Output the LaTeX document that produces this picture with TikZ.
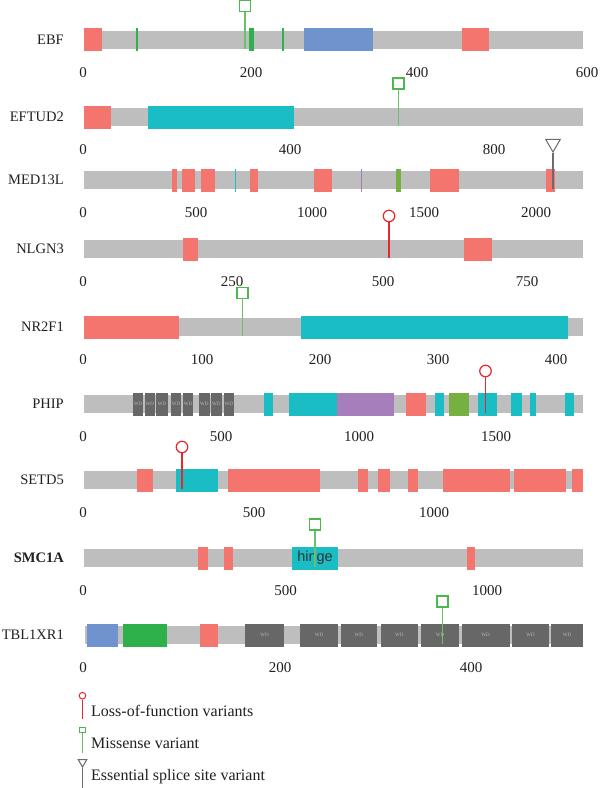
\documentclass[tikz,border=0pt]{standalone}
\usepackage{fontspec}
\setmainfont{Liberation Serif}
\setsansfont{Liberation Sans}
\usetikzlibrary{shapes.geometric}

\definecolor{bargray}{HTML}{BEBEBE}
\definecolor{domred}{HTML}{F4756E}
\definecolor{domcyan}{HTML}{1ABDC3}
\definecolor{domblue}{HTML}{6F94CD}
\definecolor{dompurple}{HTML}{A67EBB}
\definecolor{domolive}{HTML}{76B041}
\definecolor{domgreen}{HTML}{2EB14B}
\definecolor{wdgray}{HTML}{676767}
\definecolor{misgreen}{HTML}{4DB84B}
\definecolor{misline}{HTML}{6CC06A}
\definecolor{lofred}{HTML}{E8262D}
\definecolor{splgray}{HTML}{6B6B6B}
\definecolor{labelink}{HTML}{231F20}

\tikzset{
  genename/.style={anchor=east, inner sep=0pt, text=labelink, font=\fontsize{14.5}{18}\selectfont},
  axislabel/.style={text=labelink, font=\fontsize{15}{18}\selectfont},
  legendtext/.style={anchor=west, inner sep=0pt, text=labelink, font=\fontsize{16}{18}\selectfont},
  missense/.style={rectangle, draw=misgreen, line width=1.2pt, fill=white, minimum size=11pt, inner sep=0pt},
  misstem/.style={draw=misline, line width=1.1pt},
  lof/.style={circle, draw=lofred, line width=1.2pt, fill=white, minimum size=11.5pt, inner sep=0pt},
  lofstem/.style={draw=lofred, line width=1.1pt},
  splice/.style={regular polygon, regular polygon sides=3, shape border rotate=180, draw=splgray, line width=1pt, fill=white, minimum size=17pt, inner sep=0pt},
  splstem/.style={draw=splgray, line width=1.1pt},
  wdtext/.style={text=white!72!black, font=\fontsize{5}{6}\selectfont, inner sep=0pt},
}

% grey protein backbone and coloured domains (x from, y centre)
\newcommand{\backbone}[2]{\fill[bargray] (#1,#2-9) rectangle (583,#2+9);}
\newcommand{\domain}[4]{\fill[#1] (#2,#4-11.5) rectangle (#3,#4+11.5);}

\begin{document}
\begin{tikzpicture}[x=1pt, y=-1pt]
  \useasboundingbox (0,0) rectangle (600,788);

  % EBF
  \node[genename] (ebf) at (64,39.5) {EBF};
  \backbone{84}{39.5}
  \domain{domred}{84}{101.5}{39.5}
  \domain{domgreen}{136}{138}{39.5}
  \domain{domgreen}{249}{254}{39.5}
  \domain{domgreen}{281.5}{284}{39.5}
  \domain{domblue}{304}{373}{39.5}
  \domain{domred}{462}{489}{39.5}
  \node[missense] (ebfmis) at (245,6) {};
  \coordinate (ebfmisend) at (245,48.5);
  \draw[misstem] (ebfmis) -- (ebfmisend);
  \foreach \v/\x in {0/83,200/251,400/417,600/587}
    \node[axislabel] (ebfax\v) at (\x,72.5) {\v};

  % EFTUD2
  \node[genename] (eftud) at (64,117) {EFTUD2};
  \backbone{84}{117}
  \domain{domred}{84}{111}{117}
  \domain{domcyan}{148}{294}{117}
  \node[missense] (eftudmis) at (398.5,83.5) {};
  \coordinate (eftudmisend) at (398.5,126);
  \draw[misstem] (eftudmis) -- (eftudmisend);
  \foreach \v/\x in {0/83,400/290,800/494}
    \node[axislabel] (eftudax\v) at (\x,150) {\v};

  % MED13L
  \node[genename] (med) at (64,180) {MED13L};
  \backbone{84}{180}
  \foreach \a/\b in {172/177,182/194.5,201/215,250/258,314/332,430/459,546/554.5}
    \domain{domred}{\a}{\b}{180};
  \domain{domcyan}{234.5}{235.5}{180}
  \domain{dompurple}{361}{362}{180}
  \domain{domolive}{396}{400.5}{180}
  \node[splice] (medspl) at (553,143.5) {};
  \coordinate (medsplend) at (553,189);
  \draw[splstem] (medspl.corner 1) -- (medsplend);
  \foreach \v/\x in {0/83,500/196,1000/312,1500/424,2000/536}
    \node[axislabel] (medax\v) at (\x,213) {\v};

  % NLGN3
  \node[genename] (nlgn) at (64,249) {NLGN3};
  \backbone{84}{249}
  \domain{domred}{183}{198}{249}
  \domain{domred}{464}{492}{249}
  \node[lof] (nlgnlof) at (389,216) {};
  \coordinate (nlgnlofend) at (389,258);
  \draw[lofstem] (nlgnlof) -- (nlgnlofend);
  \foreach \v/\x in {0/83,250/232,500/383,750/527}
    \node[axislabel] (nlgnax\v) at (\x,282) {\v};

  % NR2F1
  \node[genename] (nrf) at (64,327) {NR2F1};
  \backbone{84}{327}
  \domain{domred}{84}{179}{327}
  \domain{domcyan}{301}{568}{327}
  \node[missense] (nrfmis) at (242.5,293) {};
  \coordinate (nrfmisend) at (242.5,336);
  \draw[misstem] (nrfmis) -- (nrfmisend);
  \foreach \v/\x in {0/83,100/202,200/320,300/438,400/556}
    \node[axislabel] (nrfax\v) at (\x,360) {\v};

  % PHIP
  \node[genename] (phip) at (64,404) {PHIP};
  \backbone{84}{404}
  \foreach \a/\b [count=\i] in {133/143.3,144.7/154.7,156/168,170.7/181.3,182.7/193.3,199/209.7,211/221.7,223.7/234}{
    \domain{wdgray}{\a}{\b}{404}
    \node[wdtext] (phipwd\i) at ({(\a+\b)/2},404) {WD};
  }
  \foreach \a/\b in {264/272.5,289/337,435/443.7,478/497,511/522,529.5/535.6,565/573.6}
    \domain{domcyan}{\a}{\b}{404};
  \domain{dompurple}{337}{393.5}{404}
  \domain{domred}{406}{426}{404}
  \domain{domolive}{449}{469}{404}
  \node[lof] (phiplof) at (485.5,371) {};
  \coordinate (phiplofend) at (485.5,413);
  \draw[lofstem] (phiplof) -- (phiplofend);
  \foreach \v/\x in {0/83,500/221,1000/359,1500/496}
    \node[axislabel] (phipax\v) at (\x,437) {\v};

  % SETD5
  \node[genename] (setd) at (64,480) {SETD5};
  \backbone{84}{480}
  \foreach \a/\b in {137/153,228/320,358/368,377.5/389.6,407.6/418,443/510,514/565.5,571.6/583}
    \domain{domred}{\a}{\b}{480};
  \domain{domcyan}{176}{218}{480}
  \node[lof] (setdlof) at (182,447) {};
  \coordinate (setdlofend) at (182,489);
  \draw[lofstem] (setdlof) -- (setdlofend);
  \foreach \v/\x in {0/83,500/254,1000/434}
    \node[axislabel] (setdax\v) at (\x,513) {\v};

  % SMC1A
  \node[genename, font=\fontsize{14.5}{18}\selectfont\bfseries] (smc) at (64,558) {SMC1A};
  \backbone{84}{558}
  \domain{domred}{198}{208}{558}
  \domain{domred}{224}{233}{558}
  \domain{domred}{467}{475}{558}
  \node[fill=domcyan, minimum width=46pt, minimum height=23pt, inner sep=0pt,
        text=black!80, font=\sffamily\fontsize{14.5}{16}\selectfont] (hinge) at (315,558) {hinge};
  \node[missense] (smcmis) at (315,524.5) {};
  \coordinate (smcmisend) at (315,567);
  \draw[misstem] (smcmis) -- (smcmisend);
  \foreach \v/\x in {0/83,500/285.5,1000/487}
    \node[axislabel] (smcax\v) at (\x,591) {\v};

  % TBL1XR1
  \node[genename] (tbl) at (64,635) {TBL1XR1};
  \backbone{85}{635}
  \domain{domblue}{87}{117.6}{635}
  \domain{domgreen}{123}{166.5}{635}
  \domain{domred}{200}{218}{635}
  \foreach \a/\b [count=\i] in {245/284,300/338,340.6/377,381/417.6,421/459,461.7/509.6,512/549,551/583}{
    \domain{wdgray}{\a}{\b}{635}
    \node[wdtext] (tblwd\i) at ({(\a+\b)/2},635) {WD};
  }
  \node[missense] (tblmis) at (442.5,601.5) {};
  \coordinate (tblmisend) at (442.5,644);
  \draw[misstem] (tblmis) -- (tblmisend);
  \foreach \v/\x in {0/83,200/280,400/471}
    \node[axislabel] (tblax\v) at (\x,668) {\v};

  % Legend
  \node[lof, line width=1pt, minimum size=6.6pt] (keylof) at (82.5,695.7) {};
  \coordinate (keylofend) at (82.5,719);
  \draw[lofstem] (keylof) -- (keylofend);
  \node[legendtext] (keyloftext) at (91,710.7) {Loss-of-function variants};

  \node[missense, line width=1pt, minimum size=5.3pt] (keymis) at (82.5,730) {};
  \coordinate (keymisend) at (82.5,753);
  \draw[misstem] (keymis) -- (keymisend);
  \node[legendtext] (keymistext) at (91,743) {Missense variant};

  \node[splice, minimum size=10pt] (keyspl) at (82.5,762) {};
  \coordinate (keysplend) at (82.5,788);
  \draw[splstem] (keyspl.corner 1) -- (keysplend);
  \node[legendtext] (keyspltext) at (91,777) {Essential splice site variant};
\end{tikzpicture}
\end{document}
